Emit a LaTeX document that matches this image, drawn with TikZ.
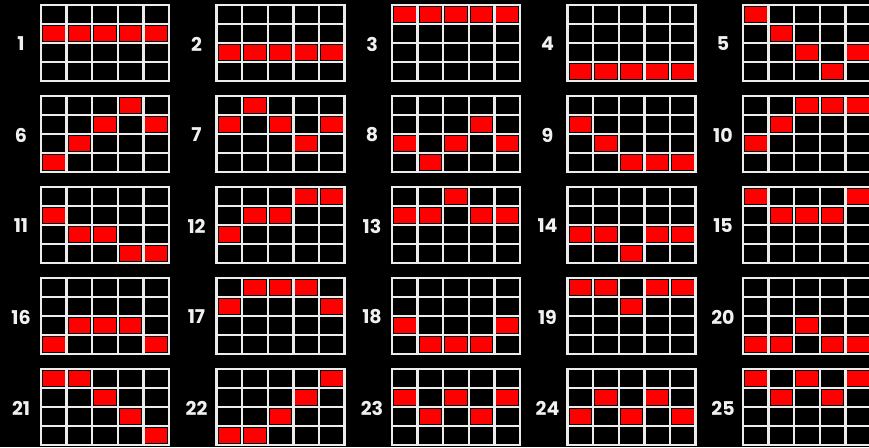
\documentclass[tikz,border=0pt]{standalone}
\usepackage{fontspec}
\newfontfamily\labfont{Poppins}
\definecolor{gridwhite}{RGB}{236,236,236}
\definecolor{payred}{RGB}{255,0,0}
\definecolor{labwhite}{RGB}{240,240,240}
\begin{document}
\begin{tikzpicture}[x=1pt,y=-1pt,
  gridline/.style={draw=gridwhite,line width=2.4pt,line cap=rect},
  redcell/.style={fill=payred},
  numlabel/.style={text=labwhite,font=\labfont\bfseries\fontsize{19}{19}\selectfont,anchor=center,inner sep=0pt}]
\fill[black] (0,0) rectangle (869,447);
\useasboundingbox (0,0) rectangle (869,447);
\foreach \n/\a/\b/\c/\d/\e in {
  1/2/2/2/2/2, 2/3/3/3/3/3, 3/1/1/1/1/1, 4/4/4/4/4/4, 5/1/2/3/4/3,
  6/4/3/2/1/2, 7/2/1/2/3/2, 8/3/4/3/2/3, 9/2/3/4/4/4, 10/3/2/1/1/1,
  11/2/3/3/4/4, 12/3/2/2/1/1, 13/2/2/1/2/2, 14/3/3/4/3/3, 15/1/2/2/2/1,
  16/4/3/3/3/4, 17/2/1/1/1/2, 18/3/4/4/4/3, 19/1/1/2/1/1, 20/4/4/3/4/4,
  21/1/1/2/3/4, 22/4/4/3/2/1, 23/2/3/2/3/2, 24/3/2/3/2/3, 25/1/2/1/2/1}{
  \pgfmathtruncatemacro\col{mod(\n-1,5)}
  \pgfmathtruncatemacro\row{int((\n-1)/5)}
  \pgfmathsetmacro\gx{40+175.5*\col}
  \pgfmathsetmacro\gy{4+91*\row}
  % red cells
  \foreach \r [count=\k from 0] in {\a,\b,\c,\d,\e}{
    \fill[redcell] ({\gx+3+\k*25.6},{\gy+3+(\r-1)*19}) rectangle ++(21.6,15);
  }
  % grid lines
  \foreach \i in {0,...,5}{
    \draw[gridline] ({\gx+1+\i*25.6},{\gy+1}) -- ({\gx+1+\i*25.6},{\gy+77});
  }
  \foreach \j in {0,...,4}{
    \draw[gridline] ({\gx+1},{\gy+1+\j*19}) -- ({\gx+129},{\gy+1+\j*19});
  }
  \node[numlabel] (lab\n) at ({\gx-19},{\gy+40}) {\n};
}
\end{tikzpicture}
\end{document}
